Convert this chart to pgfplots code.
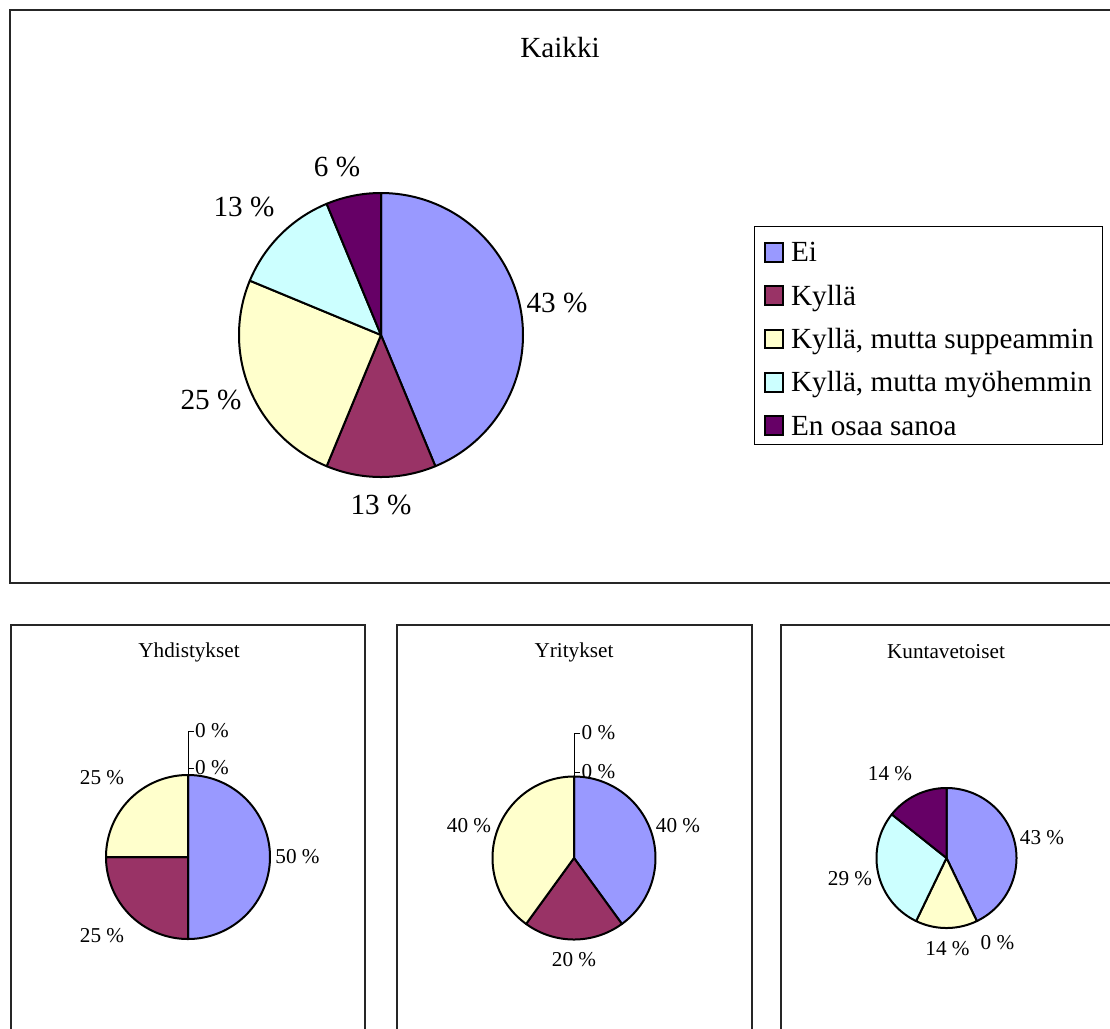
\documentclass[border=0pt]{standalone}
\usepackage{fontspec}
\setmainfont{Liberation Serif}
\usepackage{pgfplots}
\pgfplotsset{compat=1.18}
\definecolor{ei}{HTML}{9999FF}
\definecolor{kylla}{HTML}{993366}
\definecolor{supp}{HTML}{FFFFCC}
\definecolor{myoh}{HTML}{CCFFFF}
\definecolor{enos}{HTML}{660066}
% slice from cumulative percent #1 to #2, colour #3 (clockwise from 12 o'clock)
\newcommand\slice[3]{\addplot[draw=black, line width=1pt, line join=round, fill=#3,
  domain=90-3.6*#2:90-3.6*#1, samples=120, forget plot]
  ({cos(x)},{sin(x)}) -- (axis cs:0,0) -- cycle;}
\pgfplotsset{pie/.style={hide axis, scale only axis, anchor=center,
  xmin=-1, xmax=1, ymin=-1, ymax=1, clip=false}}
\newcommand\bigf{\fontsize{14.6}{17}\selectfont}
\newcommand\smlf{\fontsize{10.6}{12.7}\selectfont}
\begin{document}
\begin{tikzpicture}
\begin{scope}[x=0.5pt,y=-0.5pt]
\useasboundingbox (0,0) rectangle (1110,1029);
\clip (0,0) rectangle (1110,1029);
% frames
\draw[line width=0.6pt, draw=black!85] (10,10) rectangle (1130,583);
\draw[line width=0.6pt, draw=black!85] (11,625) rectangle (365,1060);
\draw[line width=0.6pt, draw=black!85] (397,625) rectangle (752,1060);
\draw[line width=0.6pt, draw=black!85] (781,625) rectangle (1130,1060);
\end{scope}

% ---------------- Kaikki ----------------
\begin{axis}[pie, at={(190.5pt,-167.5pt)}, x=71pt, y=71pt,
  legend style={at={(axis description cs:1.8134,0.8838)}, anchor=north west,
    draw=black, line width=0.5pt, font=\bigf, inner xsep=4.5pt, inner ysep=0.5pt,
    column sep=3.5pt, row sep=0.15pt,
    cells={anchor=base west},
    nodes={inner sep=0pt, text height=17.2pt, text depth=4.3pt}},
  legend image code/.code={\draw[#1, draw=black, line width=1pt] (0.2pt,0.1pt) rectangle (9.5pt,9.4pt);}]
\slice{0}{43.75}{ei}
\slice{43.75}{56.25}{kylla}
\slice{56.25}{81.25}{supp}
\slice{81.25}{93.75}{myoh}
\slice{93.75}{100}{enos}
\addlegendimage{fill=ei}\addlegendentry{Ei}
\addlegendimage{fill=kylla}\addlegendentry{Kyllä}
\addlegendimage{fill=supp}\addlegendentry{Kyllä, mutta suppeammin}
\addlegendimage{fill=myoh}\addlegendentry{Kyllä, mutta myöhemmin}
\addlegendimage{fill=enos}\addlegendentry{En osaa sanoa}
\end{axis}

% ---------------- Yhdistykset ----------------
\begin{axis}[pie, at={(94pt,-428.5pt)}, x=41pt, y=41pt]
\slice{0}{50}{ei}
\slice{50}{75}{kylla}
\slice{75}{100}{supp}
\end{axis}

% ---------------- Yritykset ----------------
\begin{axis}[pie, at={(287pt,-429pt)}, x=40.75pt, y=40.75pt]
\slice{0}{40}{ei}
\slice{40}{60}{kylla}
\slice{60}{100}{supp}
\end{axis}

% ---------------- Kuntavetoiset ----------------
\begin{axis}[pie, at={(473.25pt,-429pt)}, x=35pt, y=35pt]
\slice{0}{42.857}{ei}
\slice{42.857}{57.143}{supp}
\slice{57.143}{85.714}{myoh}
\slice{85.714}{100}{enos}
\end{axis}

\begin{scope}[x=0.5pt,y=-0.5pt]
\node[font=\bigf] at (560,48) {Kaikki};
\node[font=\bigf] at (557,303) {43 \%};
\node[font=\bigf] at (381,505) {13 \%};
\node[font=\bigf] at (211,400) {25 \%};
\node[font=\bigf] at (244,207) {13 \%};
\node[font=\bigf] at (337,167) {6 \%};

\node[font=\smlf] at (189,652) {Yhdistykset};
\node[font=\smlf] at (297.5,857) {50 \%};
\node[font=\smlf] at (102,778) {25 \%};
\node[font=\smlf] at (102,936) {25 \%};
\node[font=\smlf] at (212,731) {0 \%};
\node[font=\smlf] at (212,768) {0 \%};
\draw[line width=0.4pt] (194,731) -- (188,731) -- (188,775);
\draw[line width=0.4pt] (188,768) -- (194,768);

\node[font=\smlf] at (574,652) {Yritykset};
\node[font=\smlf] at (678,826) {40 \%};
\node[font=\smlf] at (469,826) {40 \%};
\node[font=\smlf] at (574,960) {20 \%};
\node[font=\smlf] at (598.5,733) {0 \%};
\node[font=\smlf] at (598.5,772) {0 \%};
\draw[line width=0.4pt] (580,733) -- (574,733) -- (574,776);
\draw[line width=0.4pt] (574,772) -- (580,772);

\node[font=\smlf] at (946,652) {Kuntavetoiset};
\node[font=\smlf] at (1042,838) {43 \%};
\node[font=\smlf] at (890,774) {14 \%};
\node[font=\smlf] at (850,879) {29 \%};
\node[font=\smlf] at (947.5,949) {14 \%};
\node[font=\smlf] at (997.5,943) {0 \%};
\end{scope}
\end{tikzpicture}
\end{document}
